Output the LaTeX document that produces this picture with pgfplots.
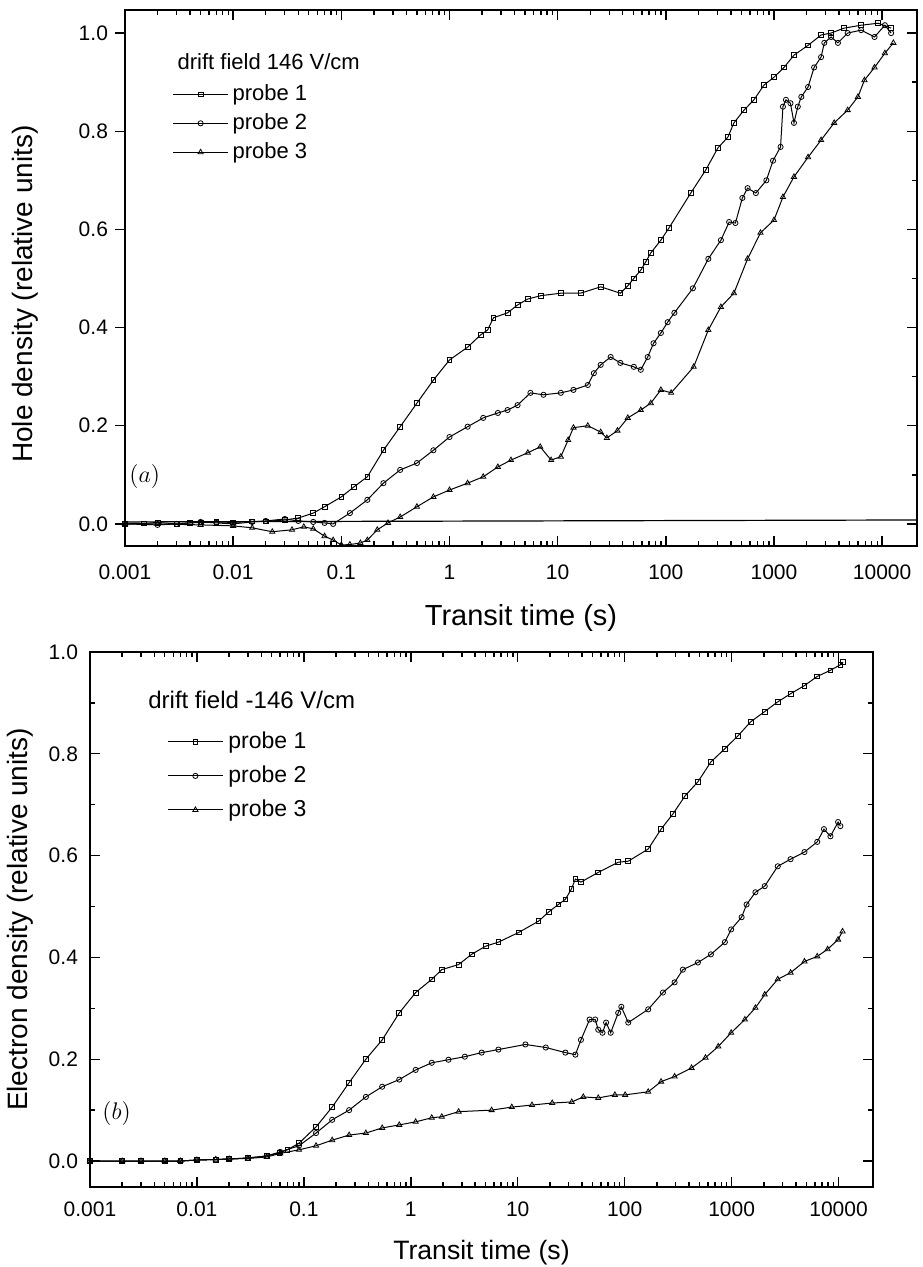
\documentclass[border=0pt]{standalone}
\usepackage{fontspec}
\setmainfont{Liberation Sans}
\usepackage{pgfplots}
\pgfplotsset{compat=1.18}

\pgfplotstableread{
x y
0.001 0.0
0.0015 0.001
0.002 0.003
0.003 0.0
0.004 0.002
0.005 0.003
0.007 0.004
0.01 0.003
0.015 0.005
0.02 0.005
0.03 0.008
0.04 0.012
0.055 0.022
0.07 0.035
0.1 0.055
0.13 0.075
0.174 0.096
0.245 0.15
0.35 0.198
0.5 0.246
0.71 0.293
1.0 0.334
1.47 0.36
1.94 0.385
2.25 0.395
2.55 0.42
3.44 0.43
4.26 0.446
5.27 0.458
7.0 0.465
10.7 0.47
16.3 0.47
25 0.483
38 0.47
44.5 0.485
50.6 0.50
58.7 0.517
65.3 0.534
72.6 0.552
90 0.578
107 0.603
170 0.674
234 0.721
303 0.766
375 0.788
426 0.817
528 0.843
653 0.864
808 0.894
1000 0.91
1238 0.93
1532 0.955
2065 0.975
2725 0.996
3370 1.0
4446 1.01
6394 1.016
9180 1.02
12100 1.01
}\topA

\pgfplotstableread{
x y
0.001 0.0
0.002 -0.002
0.003 0.0
0.005 0.004
0.007 0.002
0.01 0.0
0.015 0.004
0.02 0.006
0.03 0.01
0.04 0.006
0.055 0.004
0.07 0.002
0.084 0.0
0.12 0.022
0.174 0.049
0.245 0.083
0.35 0.11
0.5 0.124
0.71 0.15
1.0 0.177
1.47 0.198
2.05 0.216
2.8 0.226
3.44 0.232
4.26 0.242
5.6 0.267
7.4 0.263
10.7 0.267
14 0.273
19 0.283
21.6 0.307
25 0.324
30.9 0.34
38 0.328
50.6 0.32
58.7 0.314
68 0.34
77 0.368
90 0.389
104 0.411
120 0.43
178 0.48
247 0.54
323 0.578
385 0.615
440 0.613
510 0.664
570 0.684
680 0.674
850 0.70
980 0.74
1150 0.768
1210 0.85
1290 0.864
1420 0.857
1530 0.817
1660 0.85
1790 0.87
2065 0.89
2350 0.93
2725 0.951
2920 0.98
3370 0.992
3900 0.98
4800 1.0
6400 1.006
8500 0.992
10600 1.016
12100 1.0
}\topB

\pgfplotstableread{
x y
0.001 0.0
0.002 0.0
0.005 -0.002
0.01 -0.004
0.015 -0.008
0.023 -0.016
0.035 -0.012
0.045 -0.006
0.055 -0.01
0.07 -0.025
0.084 -0.033
0.1 -0.043
0.12 -0.042
0.15 -0.039
0.174 -0.033
0.215 -0.012
0.27 0.002
0.35 0.014
0.5 0.035
0.71 0.055
1.0 0.069
1.47 0.083
2.05 0.096
2.8 0.116
3.7 0.13
5.3 0.145
6.9 0.157
8.7 0.13
10.7 0.137
12.5 0.171
14 0.196
19 0.2
25 0.187
28.5 0.175
35.7 0.19
44.5 0.216
58.7 0.232
72.6 0.246
90 0.273
112 0.267
181 0.32
247 0.395
323 0.442
426 0.47
570 0.54
750 0.593
1000 0.619
1210 0.666
1530 0.707
2065 0.747
2725 0.782
3600 0.817
4800 0.843
5970 0.87
6860 0.904
8500 0.93
10600 0.959
12700 0.98
}\topC

\pgfplotstableread{
x y
0.001 0.0
0.002 0.0
0.003 0.0
0.005 0.0
0.007 0.0
0.01 0.002
0.015 0.003
0.02 0.004
0.03 0.006
0.045 0.01
0.059 0.016
0.07 0.022
0.09 0.035
0.13 0.067
0.184 0.106
0.265 0.154
0.38 0.2
0.54 0.238
0.78 0.291
1.11 0.331
1.57 0.357
1.95 0.376
2.8 0.386
3.7 0.406
5 0.422
6.6 0.43
10.2 0.449
15.6 0.471
19.4 0.489
24 0.504
27.9 0.514
31.7 0.534
34.6 0.554
39 0.548
56.6 0.567
87 0.587
108 0.589
166 0.613
219 0.652
283 0.682
366 0.717
484 0.745
640 0.784
865 0.81
1143 0.835
1510 0.863
2040 0.883
2700 0.902
3560 0.918
4800 0.934
6320 0.952
8400 0.964
10400 0.975
11000 0.98
}\botA

\pgfplotstableread{
x y
0.001 0.0
0.002 0.0
0.003 0.0
0.005 0.0
0.007 0.0
0.01 0.002
0.015 0.003
0.02 0.004
0.03 0.006
0.045 0.01
0.06 0.018
0.09 0.03
0.13 0.055
0.184 0.081
0.265 0.1
0.38 0.126
0.54 0.146
0.78 0.16
1.11 0.179
1.57 0.193
2.25 0.199
3.2 0.205
4.6 0.213
6.6 0.219
11.8 0.229
18.3 0.223
27.9 0.213
34.6 0.209
39 0.238
47 0.278
53 0.278
56.6 0.258
62 0.252
67 0.272
74 0.252
87 0.291
93 0.303
108 0.272
166 0.298
228 0.331
293 0.351
350 0.376
484 0.39
640 0.406
865 0.43
990 0.455
1240 0.479
1380 0.504
1670 0.528
2040 0.54
2700 0.579
3560 0.593
4800 0.607
6320 0.627
7300 0.652
8400 0.638
9900 0.666
10400 0.658
}\botB

\pgfplotstableread{
x y
0.001 0.0
0.002 0.0
0.003 0.0
0.005 0.0
0.007 0.0
0.01 0.002
0.015 0.003
0.02 0.004
0.03 0.005
0.045 0.008
0.06 0.015
0.09 0.022
0.13 0.03
0.184 0.041
0.265 0.051
0.38 0.055
0.54 0.065
0.78 0.071
1.11 0.077
1.57 0.085
1.95 0.087
2.8 0.097
5.7 0.1
8.8 0.106
13.6 0.11
21 0.114
32 0.116
41 0.126
56.6 0.124
81 0.13
101 0.13
166 0.136
219 0.156
293 0.166
422 0.183
570 0.203
750 0.225
990 0.252
1330 0.278
1670 0.301
2040 0.327
2700 0.357
3560 0.37
4800 0.392
6320 0.402
7900 0.416
9900 0.435
10900 0.451
}\botC

\pgfplotsset{
  every axis/.append style={
    scale only axis,
    xmode=log,
    xmin=0.001, xmax=21000,
    xtick={0.001,0.01,0.1,1,10,100,1000,10000},
    xticklabels={0.001,0.01,0.1,1,10,100,1000,10000},
    ytick={0,0.2,0.4,0.6,0.8,1.0},
    yticklabels={0.0,0.2,0.4,0.6,0.8,1.0},
    minor ytick={0.1,0.3,0.5,0.7,0.9},
    tick align=inside,
    axis line style={line width=1pt},
    major tick length=5pt, minor tick length=2.5pt,
    every tick/.style={black, line width=0.7pt},
    legend cell align=left,
    legend image code/.code={
      \draw[mark repeat=2,mark phase=2] plot coordinates {(0pt,0pt) (13.75pt,0pt) (27.5pt,0pt)};
    },
  },
  p1/.style={black, line width=0.5pt, mark=square, mark size=1.2pt, mark options={solid, fill=white, line width=0.4pt}},
  p2/.style={black, line width=0.5pt, mark=o, mark size=1.3pt, mark options={solid, fill=white, line width=0.4pt}},
  p3/.style={black, line width=0.5pt, mark=triangle, mark size=1.5pt, mark options={solid, fill=white, line width=0.4pt}},
}

\begin{document}
\begin{tikzpicture}
\path[use as bounding box] (0pt,0pt) rectangle (461pt,633.5pt);

% ---------------- top panel (a) ----------------
\begin{axis}[
  at={(62.5pt,360.5pt)}, anchor=south west,
  width=396pt, height=268pt,
  ymin=-0.045, ymax=1.047,
  ytick pos=right, yticklabel pos=left,
  extra y ticks={0,0.2,0.4,0.6,0.8,1.0},
  extra y tick labels={},
  extra y tick style={tick align=outside, ytick pos=left},
  ticklabel style={font=\fontsize{10.5}{12}\selectfont},
  yticklabel shift=5pt, xticklabel shift=6pt,
  xlabel={Transit time (s)},
  ylabel={Hole density (relative units)},
  xlabel style={font=\fontsize{14.5}{17}\selectfont, at={(axis description cs:0.5,-0.149)}, anchor=base},
  ylabel style={font=\fontsize{14}{17}\selectfont, at={(axis description cs:-0.1174,0.47)}, anchor=base},
  legend style={draw=none, fill=none, at={(axis description cs:0.052,0.877)}, anchor=north west,
    font=\fontsize{11}{13}\selectfont, row sep=0.5pt,
    nodes={text height=8pt, text depth=2pt, inner sep=2pt}},
]
\addplot[black, line width=0.6pt, forget plot] coordinates {(0.001,0.004) (21000,0.008)};
\addplot[p1] table {\topA};
\addlegendentry{probe 1}
\addplot[p2] table {\topB};
\addlegendentry{probe 2}
\addplot[p3] table {\topC};
\addlegendentry{probe 3}
\node[anchor=west, inner sep=0pt, font=\fontsize{11}{13}\selectfont] at (axis description cs:0.066,0.903) {drift field 146 V/cm};
\node[font=\fontsize{12}{14}\selectfont] at (axis description cs:0.025,0.129) {$(a)$};
\end{axis}

% ---------------- bottom panel (b) ----------------
\begin{axis}[
  at={(45pt,40pt)}, anchor=south west,
  width=391.5pt, height=267.5pt,
  ymin=-0.051, ymax=1.0,
  ticklabel style={font=\fontsize{10.5}{12}\selectfont},
  yticklabel shift=2.5pt, xticklabel shift=4pt,
  xlabel={Transit time (s)},
  ylabel={Electron density (relative units)},
  xlabel style={font=\fontsize{13.3}{16}\selectfont, at={(axis description cs:0.5,-0.1364)}, anchor=base},
  ylabel style={font=\fontsize{14}{17}\selectfont, at={(axis description cs:-0.0792,0.5)}, anchor=base},
  legend style={draw=none, fill=none, at={(axis description cs:0.0907,0.871)}, anchor=north west,
    font=\fontsize{11.5}{14}\selectfont, row sep=0.5pt,
    nodes={text height=9pt, text depth=2.5pt, inner sep=2.5pt}},
]
\addplot[p1] table {\botA};
\addlegendentry{probe 1}
\addplot[p2] table {\botB};
\addlegendentry{probe 2}
\addplot[p3] table {\botC};
\addlegendentry{probe 3}
\node[anchor=west, inner sep=0pt, font=\fontsize{12}{14}\selectfont] at (axis description cs:0.074,0.91) {drift field -146 V/cm};
\node[font=\fontsize{12}{14}\selectfont] at (axis description cs:0.034,0.138) {$(b)$};
\end{axis}
\end{tikzpicture}
\end{document}
